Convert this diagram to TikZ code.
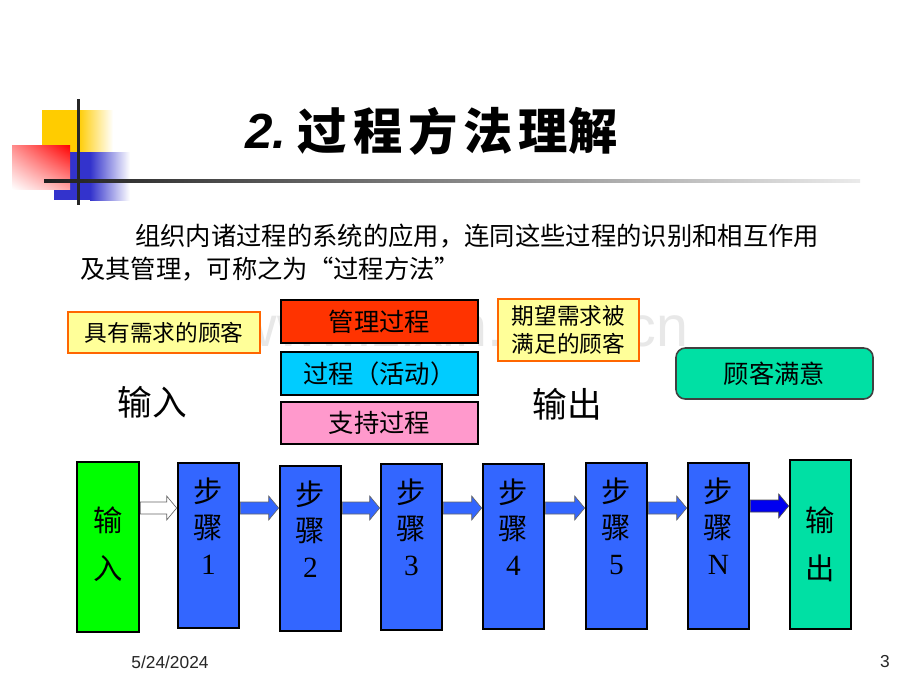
\documentclass[tikz,border=0pt]{standalone}
\usepackage{fontspec}
\setmainfont{Liberation Serif}
\newfontfamily\cjk{Noto Sans CJK SC}
\newfontfamily\sansf{Liberation Sans}
\usetikzlibrary{fit,calc,shadings}
\definecolor{stepblue}{HTML}{3366FF}
\definecolor{darkblue}{HTML}{0000F0}
\definecolor{ingreen}{HTML}{00FF00}
\definecolor{outgreen}{HTML}{00E0A4}
\definecolor{mgmt}{HTML}{FF3300}
\definecolor{proc}{HTML}{00CCFF}
\definecolor{supp}{HTML}{FF99CC}
\definecolor{custy}{HTML}{FFFF99}
\definecolor{custo}{HTML}{FF6600}
\definecolor{decoyellow}{HTML}{FFCC00}
\definecolor{decoblue}{HTML}{3333CC}
\tikzset{
  flowbox/.style={inner sep=0pt, draw=black, line width=2pt},
  stepbox/.style={flowbox, fill=stepblue},
  layerbox/.style={inner sep=0pt, draw=black, line width=2.2pt},
  layertext/.style={inner sep=0pt, font=\cjk\fontsize{19}{22}\selectfont},
  custbox/.style={inner sep=0pt, draw=custo, fill=custy, line width=1.5pt},
  custtext/.style={inner sep=0pt, align=center, font=\cjk\fontsize{17}{20.5}\selectfont},
  steptext/.style={align=center, font=\fontsize{22}{27}\selectfont, inner sep=0pt},
  endtext/.style={align=center, font=\cjk\fontsize{22}{36}\selectfont, inner sep=0pt},
  titlechar/.style={font=\cjk\bfseries\fontsize{37}{37}\selectfont, inner sep=0pt},
  bigword/.style={font=\cjk\fontsize{26}{30}\selectfont, inner sep=0pt},
  paratext/.style={font=\cjk\fontsize{19}{22}\selectfont, inner sep=0pt, anchor=west},
  arrowfill/.style={draw=black!60, line width=0.5pt, fill=stepblue},
}
% block arrow: from node, to node, centre coordinate, body half height, style
\newcommand\blockarrow[5]{%
  \draw[#5] ($(#1.east |- #3)+(0,-#4)$) -- ($(#2.west |- #3)+(-10,-#4)$) -- ($(#2.west |- #3)+(-10,-12)$)
    -- (#2.west |- #3) -- ($(#2.west |- #3)+(-10,12)$) -- ($(#2.west |- #3)+(-10,#4)$)
    -- ($(#1.east |- #3)+(0,#4)$) -- cycle;}
\begin{document}
\begin{tikzpicture}[x=0.75pt,y=-0.75pt]
\useasboundingbox (0,0) rectangle (920,690);
\fill[white] (0,0) rectangle (920,690);
% decoration
\fill[decoyellow] (42,110) rectangle (78,152);
\shade[left color=decoyellow, right color=white] (78,110) rectangle (113,152);
\fill[decoblue] (54,152) rectangle (90,200);
\shade[left color=decoblue, right color=white] (90,152) rectangle (130,200);
\shade[upper left=red!45, upper right=red, lower left=white, lower right=red!35] (12,145) rectangle (70,189);
\shade[left color=black!88, right color=black!8] (44,179.5) rectangle (860,182.5);
\fill[black!85] (76.5,99) rectangle (79.5,205);
% title
\node[titlechar, font=\sansf\bfseries\itshape\fontsize{37}{37}\selectfont] (t1) at (266,131) {2.};
\node[titlechar] (t2) at (322,131) {过};
\node[titlechar] (t3) at (378,131) {程};
\node[titlechar] (t4) at (433,131) {方};
\node[titlechar] (t5) at (488,131) {法};
\node[titlechar] (t6) at (543,131) {理};
\node[titlechar] (t7) at (593,131) {解};
% paragraph
\node[paratext] (p1) at (135,236) {组织内诸过程的系统的应用，连同这些过程的识别和相互作用};
\node[paratext] (p2) at (80,269) {及其管理，可称之为“过程方法”};
% watermark
\node[text=black!9, font=\sansf\fontsize{43}{43}\selectfont, inner sep=0pt] (wm) at (462,326) {www.zixin.com.cn};
% upper boxes
\node[custbox, fit={(68,312) (260,353)}] (need) {};
\node[custtext] (needt) at (need.center) {具有需求的顾客};
\node[layerbox, fill=mgmt, fit={(281,300) (478,343)}] (mg) {};
\node[layertext] (mgt) at (mg.center) {管理过程};
\node[layerbox, fill=proc, fit={(281,352) (478,395)}] (pr) {};
\node[layertext] (prt) at (pr.center) {过程（活动）};
\node[layerbox, fill=supp, fit={(281,402) (478,444)}] (su) {};
\node[layertext] (sut) at (su.center) {支持过程};
\node[custbox, fit={(498,299) (639,361)}] (sat) {};
\node[custtext] (satt) at (sat.center) {期望需求被\\满足的顾客};
\node[inner sep=0pt, draw=black!75, line width=1.2pt, rounded corners=7pt, fill=outgreen,
  fit={(676,348) (873,399)}] (happy) {};
\node[layertext] (happyt) at (happy.center) {顾客满意};
\node[bigword] (inw) at (152,402) {输入};
\node[bigword] (outw) at (567,404) {输出};
% flow boxes
\node[flowbox, fill=ingreen, fit={(77,462) (139,632)}] (in) {};
\node[endtext] (int) at (108,544) {输\\入};
\node[stepbox, fit={(178,463) (239,628)}] (s1) {};
\node[stepbox, fit={(280,466) (341,631)}] (s2) {};
\node[stepbox, fit={(381,464) (442,630)}] (s3) {};
\node[stepbox, fit={(483,464) (544,629)}] (s4) {};
\node[stepbox, fit={(586,463) (647,629)}] (s5) {};
\node[stepbox, fit={(688,463) (749,629)}] (sn) {};
\node[flowbox, fill=outgreen, fit={(790,460) (851,629)}] (out) {};
\node[endtext] (outt) at (820.5,544) {输\\出};
\node[steptext] (l1) at (208.5,526) {{\cjk 步}\\{\cjk 骤}\\1};
\node[steptext] (l2) at (310.5,529) {{\cjk 步}\\{\cjk 骤}\\2};
\node[steptext] (l3) at (411.5,527) {{\cjk 步}\\{\cjk 骤}\\3};
\node[steptext] (l4) at (513.5,527) {{\cjk 步}\\{\cjk 骤}\\4};
\node[steptext] (l5) at (616.5,526) {{\cjk 步}\\{\cjk 骤}\\5};
\node[steptext] (ln) at (718.5,526) {{\cjk 步}\\{\cjk 骤}\\N};
% arrows
\coordinate (ya) at (0,508);
\coordinate (yb) at (0,506);
\blockarrow{in}{s1}{ya}{6}{draw=black!60, line width=0.5pt, fill=white}
\blockarrow{s1}{s2}{ya}{6}{arrowfill}
\blockarrow{s2}{s3}{ya}{6}{arrowfill}
\blockarrow{s3}{s4}{ya}{6}{arrowfill}
\blockarrow{s4}{s5}{ya}{6}{arrowfill}
\blockarrow{s5}{sn}{ya}{6}{arrowfill}
\blockarrow{sn}{out}{yb}{6}{draw=black!70, line width=0.5pt, fill=darkblue}
% footer
\node[font=\sansf\fontsize{13}{13}\selectfont, inner sep=0pt, text=black!85] (date) at (170,662) {5/24/2024};
\node[font=\sansf\fontsize{13}{13}\selectfont, inner sep=0pt, text=black!85] (page) at (885,662) {3};
\end{tikzpicture}
\end{document}
